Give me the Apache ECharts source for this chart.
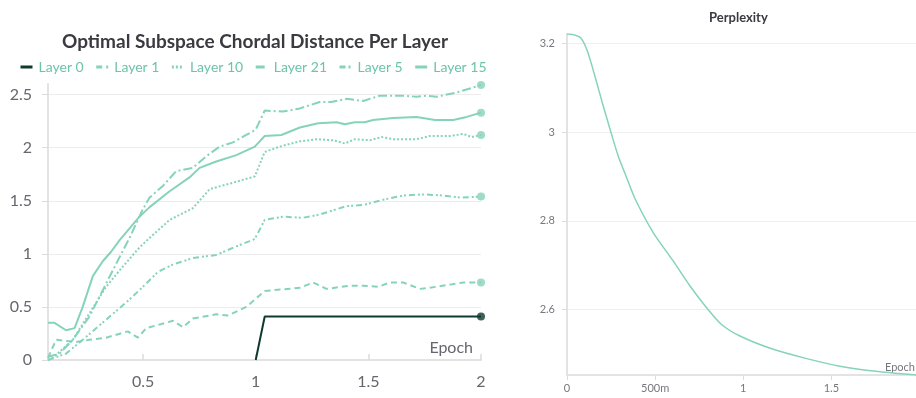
<!DOCTYPE html>
<html><head><meta charset="utf-8">
<script src="https://cdn.jsdelivr.net/npm/echarts@6/dist/echarts.min.js"></script>
<style>html,body{margin:0;padding:0;background:#fff}#c{width:916px;height:398px}</style>
</head><body><div id="c"></div><script>
// ---- Left chart data: [epoch, chordal distance] ----
const layerNames = ['Layer 0','Layer 1','Layer 10','Layer 21','Layer 5','Layer 15'];
const layer0 = [[1.0,0],[1.04,0.41],[2.0,0.41]];
const layer1 = [[0.078,0.02],[0.114,0.19],[0.158,0.18],[0.203,0.17],[0.262,0.19],[0.336,0.21],[0.432,0.27],[0.477,0.21],[0.514,0.30],[0.566,0.33],[0.633,0.37],[0.677,0.31],[0.721,0.39],[0.825,0.43],[0.877,0.42],[0.958,0.50],[1.018,0.61],[1.04,0.65],[1.196,0.68],[1.255,0.73],[1.314,0.67],[1.418,0.70],[1.477,0.70],[1.544,0.69],[1.596,0.73],[1.655,0.73],[1.729,0.67],[1.803,0.69],[1.862,0.71],[1.921,0.73],[2.0,0.73]];
const layer10 = [[0.078,0.0],[0.099,0.02],[0.188,0.19],[0.262,0.44],[0.336,0.69],[0.410,0.88],[0.484,1.06],[0.529,1.15],[0.618,1.32],[0.721,1.43],[0.796,1.61],[0.899,1.67],[0.996,1.73],[1.04,1.96],[1.107,2.01],[1.196,2.06],[1.270,2.08],[1.343,2.07],[1.396,2.04],[1.440,2.08],[1.507,2.07],[1.559,2.10],[1.610,2.08],[1.714,2.08],[1.773,2.11],[1.862,2.11],[1.921,2.13],[1.959,2.10],[2.0,2.12]];
const layer21 = [[0.078,0.03],[0.129,0.06],[0.188,0.19],[0.262,0.41],[0.336,0.72],[0.396,0.97],[0.440,1.15],[0.499,1.42],[0.529,1.53],[0.588,1.64],[0.647,1.78],[0.721,1.81],[0.781,1.92],[0.840,2.01],[0.899,2.05],[0.958,2.12],[1.0,2.17],[1.04,2.35],[1.121,2.34],[1.196,2.37],[1.284,2.43],[1.336,2.43],[1.403,2.46],[1.477,2.44],[1.551,2.49],[1.655,2.49],[1.714,2.48],[1.759,2.49],[1.803,2.48],[1.892,2.52],[2.0,2.59]];
const layer5 = [[0.078,0.0],[0.158,0.06],[0.232,0.19],[0.336,0.38],[0.440,0.57],[0.514,0.72],[0.566,0.83],[0.633,0.90],[0.721,0.96],[0.825,0.99],[0.914,1.07],[0.973,1.12],[0.996,1.14],[1.04,1.32],[1.121,1.35],[1.210,1.34],[1.284,1.37],[1.403,1.45],[1.477,1.46],[1.566,1.51],[1.655,1.55],[1.744,1.56],[1.832,1.55],[1.907,1.53],[2.0,1.54]];
const layer15 = [[0.078,0.35],[0.107,0.35],[0.158,0.28],[0.196,0.30],[0.232,0.50],[0.277,0.79],[0.321,0.93],[0.358,1.02],[0.396,1.13],[0.484,1.35],[0.529,1.44],[0.618,1.59],[0.706,1.72],[0.751,1.81],[0.825,1.87],[0.914,1.93],[0.996,2.01],[1.04,2.11],[1.114,2.12],[1.196,2.19],[1.277,2.23],[1.359,2.24],[1.396,2.22],[1.440,2.24],[1.484,2.24],[1.521,2.26],[1.610,2.28],[1.714,2.29],[1.796,2.26],[1.877,2.26],[1.936,2.29],[2.0,2.33]];
const leftXTicks = [0.5,1,1.5,2];
const leftYTicks = [0,0.5,1,1.5,2,2.5];

// ---- Right chart data: [epoch, perplexity] ----
const perplexity = [[0,3.222],[0.034,3.221],[0.078,3.213],[0.115,3.184],[0.159,3.126],[0.206,3.059],[0.248,3.002],[0.291,2.946],[0.339,2.897],[0.386,2.850],[0.490,2.773],[0.603,2.709],[0.698,2.653],[0.792,2.604],[0.877,2.566],[0.981,2.540],[1.170,2.510],[1.360,2.489],[1.548,2.472],[1.737,2.461],[1.980,2.452]];
const rightXTicks = [0,0.5,1,1.5];
const rightYTicks = [2.6,2.8,3.0,3.2];

const TEAL = '#86d3bc';
const DARK = '#0f3a30';
const FONT = 'Lato, "Noto Sans", sans-serif';
const layerData = [layer0, layer1, layer10, layer21, layer5, layer15];
const dashes = ['solid', [6,4], [2,2], [9,3,2,3], [6,3,2,2,2,3], 'solid'];

const series = layerNames.map((n,i)=>({
  name: n, type: 'line', xAxisIndex: 0, yAxisIndex: 0,
  data: layerData[i], symbol: 'none', smooth: false,
  lineStyle: {color: i===0?DARK:TEAL, width: 2, type: dashes[i]},
  itemStyle: {color: i===0?DARK:TEAL},
  z: i===0?3:2
}));
series.push({
  type: 'scatter', xAxisIndex: 0, yAxisIndex: 0, symbolSize: 8, z: 4,
  data: layerData.map((d,i)=>({value: d[d.length-1], itemStyle: {color: i===0?DARK:TEAL}})),
  silent: true
});
series.push({
  name: 'Perplexity', type: 'line', xAxisIndex: 1, yAxisIndex: 1,
  data: perplexity, symbol: 'none', smooth: 0.25,
  lineStyle: {color: TEAL, width: 1.5}
});

const axisGrey = '#e3e3e3';
const chart = echarts.init(document.getElementById('c'));
chart.setOption({
  animation: false,
  textStyle: {fontFamily: FONT},
  title: [
    {text: 'Optimal Subspace Chordal Distance Per Layer', left: 57, top: 27,
     textStyle: {fontSize: 19, fontWeight: 'bold', color: '#3a3a40', fontFamily: FONT}},
    {text: 'Perplexity', left: 704, top: 6,
     textStyle: {fontSize: 13, fontWeight: 'bold', color: '#3a3a40', fontFamily: FONT}}
  ],
  legend: {
    data: layerNames, left: 14, top: 55, itemWidth: 12, itemHeight: 10, itemGap: 11,
    itemStyle: {opacity: 0},
    lineStyle: {width: 3},
    textStyle: {color: '#6cc4ab', fontSize: 14, fontFamily: FONT, padding: [0,0,0,1]}
  },
  grid: [
    {left: 48, top: 84, width: 433, height: 276},
    {left: 567, top: 34, width: 349, height: 341}
  ],
  xAxis: [
    {type: 'value', gridIndex: 0, min: 0.078, max: 2,
     axisLine: {lineStyle: {color: axisGrey, width: 2}},
     axisTick: {customValues: leftXTicks, inside: true, length: 6, lineStyle: {color: '#dcdcdc', width: 1.5}},
     axisLabel: {customValues: leftXTicks, color: '#66666e', fontSize: 16, margin: 14},
     splitLine: {show: false}},
    {type: 'value', gridIndex: 1, min: 0, max: 1.98,
     axisLine: {lineStyle: {color: axisGrey, width: 2}},
     axisTick: {customValues: rightXTicks, length: 5, lineStyle: {color: '#dcdcdc'}},
     axisLabel: {customValues: rightXTicks, color: '#77777f', fontSize: 11, margin: 8,
       formatter: v => v===0.5 ? '500m' : String(v)},
     splitLine: {show: false}}
  ],
  yAxis: [
    {type: 'value', gridIndex: 0, min: 0, max: 2.6,
     axisLine: {show: true, lineStyle: {color: axisGrey, width: 2}},
     axisTick: {show: true, customValues: leftYTicks, length: 6, lineStyle: {color: '#dcdcdc'}},
     axisLabel: {customValues: leftYTicks, color: '#66666e', fontSize: 16, margin: 16},
     splitLine: {show: true, lineStyle: {color: '#ececec', width: 1}}},
    {type: 'value', gridIndex: 1, min: 2.452, max: 3.222,
     axisLine: {show: true, lineStyle: {color: axisGrey, width: 2}},
     axisTick: {show: true, customValues: rightYTicks, length: 5, lineStyle: {color: '#dcdcdc'}},
     axisLabel: {customValues: rightYTicks, color: '#77777f', fontSize: 11, margin: 12},
     splitLine: {show: true, lineStyle: {color: '#efefef', width: 1}}}
  ],
  graphic: [
    {type: 'text', x: 473, y: 348, style: {text: 'Epoch', fill: '#66666e', fontSize: 16, fontFamily: FONT, align: 'right', verticalAlign: 'middle'}},
    {type: 'text', x: 915, y: 367, style: {text: 'Epoch', fill: '#77777f', fontSize: 11, fontFamily: FONT, align: 'right', verticalAlign: 'middle'}}
  ],
  series: series
});
</script></body></html>
